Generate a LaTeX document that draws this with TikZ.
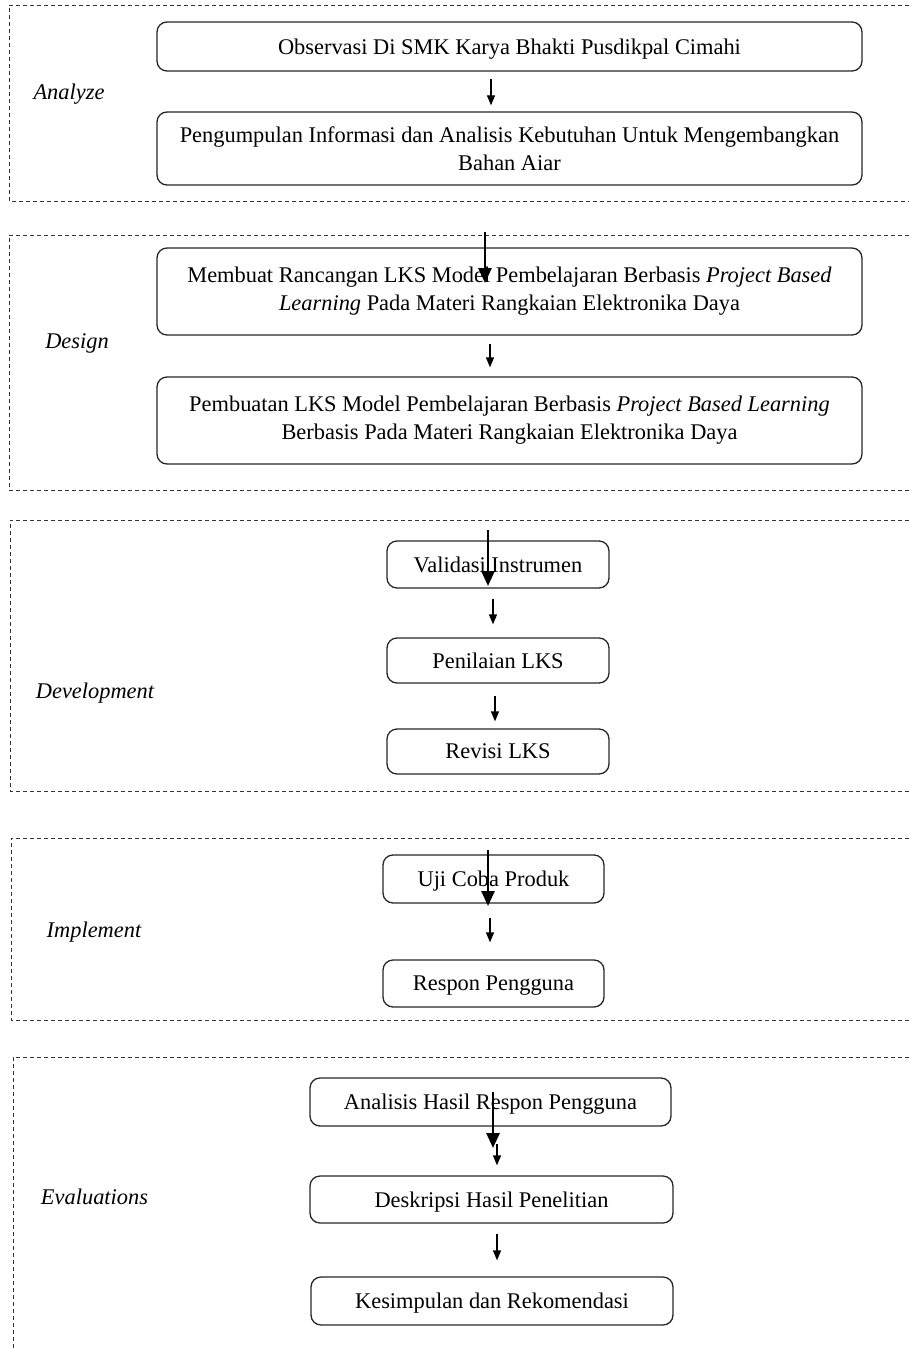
\documentclass[tikz,border=0pt]{standalone}
\usepackage{fontspec}
\setmainfont{Liberation Serif}
\usetikzlibrary{arrows.meta}
\begin{document}
\begin{tikzpicture}[x=1pt,y=-1pt,
  txt/.style={font=\fontsize{22.4}{28}\selectfont},
  stepbox/.style={txt,draw=black!85,line width=1.3pt,rounded corners=10pt,align=center,inner sep=0pt},
  oneline/.style={text depth=0pt},
  phase/.style={txt,font=\fontsize{22.4}{28}\selectfont\itshape,text depth=0pt},
  frame/.style={draw=black!80,line width=0.9pt,dash pattern=on 4pt off 3pt},
  smallarrow/.style={line width=1.3pt,-{Triangle[length=10pt,width=8pt]}},
  bigarrow/.style={line width=2.6pt,-{Triangle[length=15pt,width=13pt]}}]
\useasboundingbox (0,0) rectangle (909,1348);

% dashed phase frames (open on the right)
\draw[frame] (909,5) -- (9,5) -- (9,201) -- (909,201);
\draw[frame] (909,235) -- (9,235) -- (9,490) -- (909,490);
\draw[frame] (909,520) -- (10,520) -- (10,791) -- (909,791);
\draw[frame] (909,838) -- (11,838) -- (11,1020) -- (909,1020);
\draw[frame] (909,1057) -- (13,1057) -- (13,1348);

% phase labels
\node[phase] (lA) at (69,92) {Analyze};
\node[phase] (lD) at (77,341) {Design};
\node[phase] (lDv) at (95,691) {Development};
\node[phase] (lI) at (94,930) {Implement};
\node[phase] (lE) at (94.5,1197) {Evaluations};

% Analyze
\node[stepbox,oneline,minimum width=705pt,minimum height=49pt] (b1) at (509.5,46.5)
  {Observasi Di SMK Karya Bhakti Pusdikpal Cimahi};
\node[stepbox,minimum width=705pt,minimum height=73pt] (b2) at (509.5,148.5)
  {Pengumpulan Informasi dan Analisis Kebutuhan Untuk Mengembangkan\\Bahan Aiar};

% Design
\node[stepbox,minimum width=705pt,minimum height=87pt] (b3) at (509.5,291.5)
  {Membuat Rancangan LKS Model Pembelajaran Berbasis \textit{Project Based}\\\textit{Learning} Pada Materi Rangkaian Elektronika Daya};
\node[stepbox,minimum width=705pt,minimum height=87pt] (b4) at (509.5,420.5)
  {Pembuatan LKS Model Pembelajaran Berbasis \textit{Project Based Learning}\\Berbasis Pada Materi Rangkaian Elektronika Daya};

% Development
\node[stepbox,oneline,minimum width=222pt,minimum height=47pt] (b5) at (498,564.5) {Validasi Instrumen};
\node[stepbox,oneline,minimum width=222pt,minimum height=45pt] (b6) at (498,660.5) {Penilaian LKS};
\node[stepbox,oneline,minimum width=222pt,minimum height=45pt] (b7) at (498,751.5) {Revisi LKS};

% Implement
\node[stepbox,oneline,minimum width=221pt,minimum height=48pt] (b8) at (493.5,879) {Uji Coba Produk};
\node[stepbox,oneline,minimum width=221pt,minimum height=47pt] (b9) at (493.5,983.5) {Respon Pengguna};

% Evaluations
\node[stepbox,oneline,minimum width=361pt,minimum height=48pt] (b10) at (490.5,1102) {Analisis Hasil Respon Pengguna};
\node[stepbox,oneline,minimum width=363pt,minimum height=47pt] (b11) at (491.5,1199.5) {Deskripsi Hasil Penelitian};
\node[stepbox,oneline,minimum width=362pt,minimum height=48pt] (b12) at (492,1301) {Kesimpulan dan Rekomendasi};

% arrows between steps
\draw[smallarrow,shorten <=7pt,shorten >=6pt] ([xshift=-18.5pt]b1.south) -- ([xshift=-18.5pt]b2.north);
\draw[smallarrow,shorten <=8pt,shorten >=9pt] ([xshift=-19.5pt]b3.south) -- ([xshift=-19.5pt]b4.north);
\draw[smallarrow,shorten <=10pt,shorten >=13pt] ([xshift=-5pt]b5.south) -- ([xshift=-5pt]b6.north);
\draw[smallarrow,shorten <=12pt,shorten >=7pt] ([xshift=-3pt]b6.south) -- ([xshift=-3pt]b7.north);
\draw[smallarrow,shorten <=14pt,shorten >=17pt] ([xshift=-3.5pt]b8.south) -- ([xshift=-3.5pt]b9.north);
\draw[smallarrow,shorten <=17pt,shorten >=10pt] ([xshift=6.5pt]b10.south) -- ([xshift=5.5pt]b11.north);
\draw[smallarrow,shorten <=10pt,shorten >=16pt] ([xshift=5.5pt]b11.south) -- ([xshift=5pt]b12.north);

% heavy arrows entering each phase
\coordinate (s1) at (485,232);  \coordinate (e1) at (485,283);
\coordinate (s2) at (488,530);  \coordinate (e2) at (488,586);
\coordinate (s3) at (488,850);  \coordinate (e3) at (488,906);
\coordinate (s4) at (493,1092); \coordinate (e4) at (493,1148);
\draw[bigarrow] (s1) -- (e1);
\draw[bigarrow] (s2) -- (e2);
\draw[bigarrow] (s3) -- (e3);
\draw[bigarrow] (s4) -- (e4);
\end{tikzpicture}
\end{document}
